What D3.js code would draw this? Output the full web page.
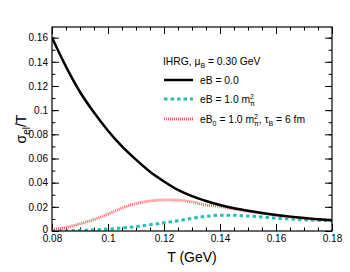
<!DOCTYPE html>
<html>
<head>
<meta charset="utf-8">
<script src="https://cdn.jsdelivr.net/npm/d3@7"></script>
<style>
  body { margin: 0; background: #fff; }
  text { font-family: "Liberation Sans", Arial, sans-serif; }
</style>
</head>
<body>
<div id="main"></div>
<script>
// DATA
const temps = [0.080, 0.085, 0.090, 0.095, 0.100, 0.105, 0.110, 0.115, 0.120, 0.125, 0.130,
               0.135, 0.140, 0.145, 0.150, 0.155, 0.160, 0.165, 0.170, 0.175, 0.180]
const eB0 = [0.160, 0.136, 0.115, 0.098, 0.083, 0.070, 0.059, 0.049, 0.041, 0.034, 0.0288,
             0.0248, 0.0215, 0.0188, 0.0167, 0.0149, 0.0133, 0.0119, 0.0107, 0.0097, 0.0088]
const eB1 = [0.0000, 0.0002, 0.0005, 0.0009, 0.0016, 0.0025, 0.0036, 0.0052, 0.0068, 0.0085, 0.0105,
             0.0121, 0.0130, 0.0130, 0.0124, 0.0116, 0.0106, 0.0099, 0.0093, 0.0088, 0.0083]
const eBtau = [0.0012, 0.0030, 0.0060, 0.0095, 0.0140, 0.0190, 0.0228, 0.0248, 0.0257, 0.0256, 0.0240,
               0.0215, 0.0203, 0.0182, 0.0163, 0.0147, 0.0132, 0.0118, 0.0106, 0.0096, 0.0087]
const xTicks = [0.08, 0.1, 0.12, 0.14, 0.16, 0.18]
const yTicks = [0, 0.02, 0.04, 0.06, 0.08, 0.1, 0.12, 0.14, 0.16]

// SETUP
const width = 350, height = 272
const mLeft = 52, mRight = 332, mTop = 27, mBottom = 231

const x = d3.scaleLinear().domain([0.08, 0.18]).range([mLeft, mRight])
const y = d3.scaleLinear().domain([0, 0.1688]).range([mBottom, mTop])

const svg = d3.select("#main").append("svg")
    .attr("width", width)
    .attr("height", height)

const fmt = d => String(+d.toFixed(2))
const xMinor = d3.range(0.08, 0.1801, 0.005)
const yMinor = d3.range(0, 0.165, 0.01)

function styleAxis(g) {
  g.select(".domain").remove()
  g.selectAll("line").attr("stroke", "#000").attr("stroke-width", 1)
  g.selectAll("text").attr("fill", "#000").style("font-size", "10px")
    .style("font-family", "'Liberation Sans', Arial, sans-serif")
}

// bottom
svg.append("g").attr("transform", `translate(0,${mBottom})`)
  .call(d3.axisBottom(x).tickValues(xMinor).tickSize(-3.5).tickFormat(""))
  .call(styleAxis)
svg.append("g").attr("transform", `translate(0,${mBottom})`)
  .call(d3.axisBottom(x).tickValues(xTicks).tickSize(-7).tickPadding(4).tickFormat(fmt))
  .call(styleAxis)
// top
svg.append("g").attr("transform", `translate(0,${mTop})`)
  .call(d3.axisTop(x).tickValues(xMinor).tickSize(-3.5).tickFormat(""))
  .call(styleAxis)
svg.append("g").attr("transform", `translate(0,${mTop})`)
  .call(d3.axisTop(x).tickValues(xTicks).tickSize(-7).tickFormat(""))
  .call(styleAxis)
// left
svg.append("g").attr("transform", `translate(${mLeft},0)`)
  .call(d3.axisLeft(y).tickValues(yMinor).tickSize(-3.5).tickFormat(""))
  .call(styleAxis)
svg.append("g").attr("transform", `translate(${mLeft},0)`)
  .call(d3.axisLeft(y).tickValues(yTicks).tickSize(-7).tickPadding(4).tickFormat(fmt))
  .call(styleAxis)
  .selectAll("text").filter(d => d === 0).attr("dy", "0.1em")  // nudge "0" clear of "0.08"
// right
svg.append("g").attr("transform", `translate(${mRight},0)`)
  .call(d3.axisRight(y).tickValues(yMinor).tickSize(-3.5).tickFormat(""))
  .call(styleAxis)
svg.append("g").attr("transform", `translate(${mRight},0)`)
  .call(d3.axisRight(y).tickValues(yTicks).tickSize(-7).tickFormat(""))
  .call(styleAxis)

// CURVES
svg.append("clipPath").attr("id", "clip")
  .append("rect").attr("x", mLeft).attr("y", mTop)
  .attr("width", mRight - mLeft).attr("height", mBottom - mTop)

const line = d3.line().x((d, i) => x(temps[i])).y(d => y(d)).curve(d3.curveMonotoneX)

const series = [
  {vals: eB1, color: "#22c2b2", width: 3, dash: "3.5,3"},
  {vals: eBtau, color: "#ff5a5a", width: 2.8, dash: "1,1"},
  {vals: eB0, color: "#000", width: 2.5, dash: null}
]

svg.append("g").attr("clip-path", "url(#clip)")
  .selectAll("path").data(series).enter().append("path")
    .attr("d", d => line(d.vals))
    .attr("fill", "none")
    .attr("stroke", d => d.color)
    .attr("stroke-width", d => d.width)
    .attr("stroke-dasharray", d => d.dash)

// frame
svg.append("rect")
  .attr("x", mLeft).attr("y", mTop)
  .attr("width", mRight - mLeft).attr("height", mBottom - mTop)
  .attr("fill", "none").attr("stroke", "#000").attr("stroke-width", 1.2)

// LEGEND
const leg = svg.append("g").style("font-size", "10.3px")
const t0 = leg.append("text").attr("x", 163).attr("y", 65)
t0.append("tspan").text("IHRG, μ")
t0.append("tspan").attr("dy", 3).style("font-size", "7px").text("B")
t0.append("tspan").attr("dy", -3).text(" = 0.30 GeV")

const legItems = [
  {s: series[2], y: 84},
  {s: series[0], y: 103},
  {s: series[1], y: 123}
]
legItems.forEach(it => {
  leg.append("line")
    .attr("x1", 164).attr("x2", 193)
    .attr("y1", it.y - 4).attr("y2", it.y - 4)
    .attr("stroke", it.s.color).attr("stroke-width", it.s.width)
    .attr("stroke-dasharray", it.s.dash)
})
leg.append("text").attr("x", 200).attr("y", 84).text("eB = 0.0")

const t2 = leg.append("text").attr("x", 200).attr("y", 103)
t2.append("tspan").text("eB = 1.0 m")
t2.append("tspan").attr("dy", -4).style("font-size", "7px").text("2")
t2.append("tspan").attr("dx", -4).attr("dy", 6.5).style("font-size", "7px").text("π")

const t3 = leg.append("text").attr("x", 200).attr("y", 123)
t3.append("tspan").text("eB")
t3.append("tspan").attr("dy", 3).style("font-size", "7px").text("0")
t3.append("tspan").attr("dy", -3).text(" = 1.0 m")
t3.append("tspan").attr("dy", -4).style("font-size", "7px").text("2")
t3.append("tspan").attr("dx", -4).attr("dy", 6.5).style("font-size", "7px").text("π")
t3.append("tspan").attr("dy", -2.5).text(", τ")
t3.append("tspan").attr("dy", 3).style("font-size", "7px").text("B")
t3.append("tspan").attr("dy", -3).text(" = 6 fm")

// AXIS TITLES
svg.append("text")
  .attr("x", (mLeft + mRight) / 2).attr("y", 262)
  .attr("text-anchor", "middle")
  .style("font-size", "14px")
  .text("T (GeV)")

const yl = svg.append("text")
  .attr("transform", "translate(26,129) rotate(-90)")
  .attr("text-anchor", "middle")
  .style("font-size", "14px")
yl.append("tspan").text("σ")
yl.append("tspan").attr("dy", 4).style("font-size", "10px").text("el")
yl.append("tspan").attr("dy", -4).text("/T")
</script>
</body>
</html>
